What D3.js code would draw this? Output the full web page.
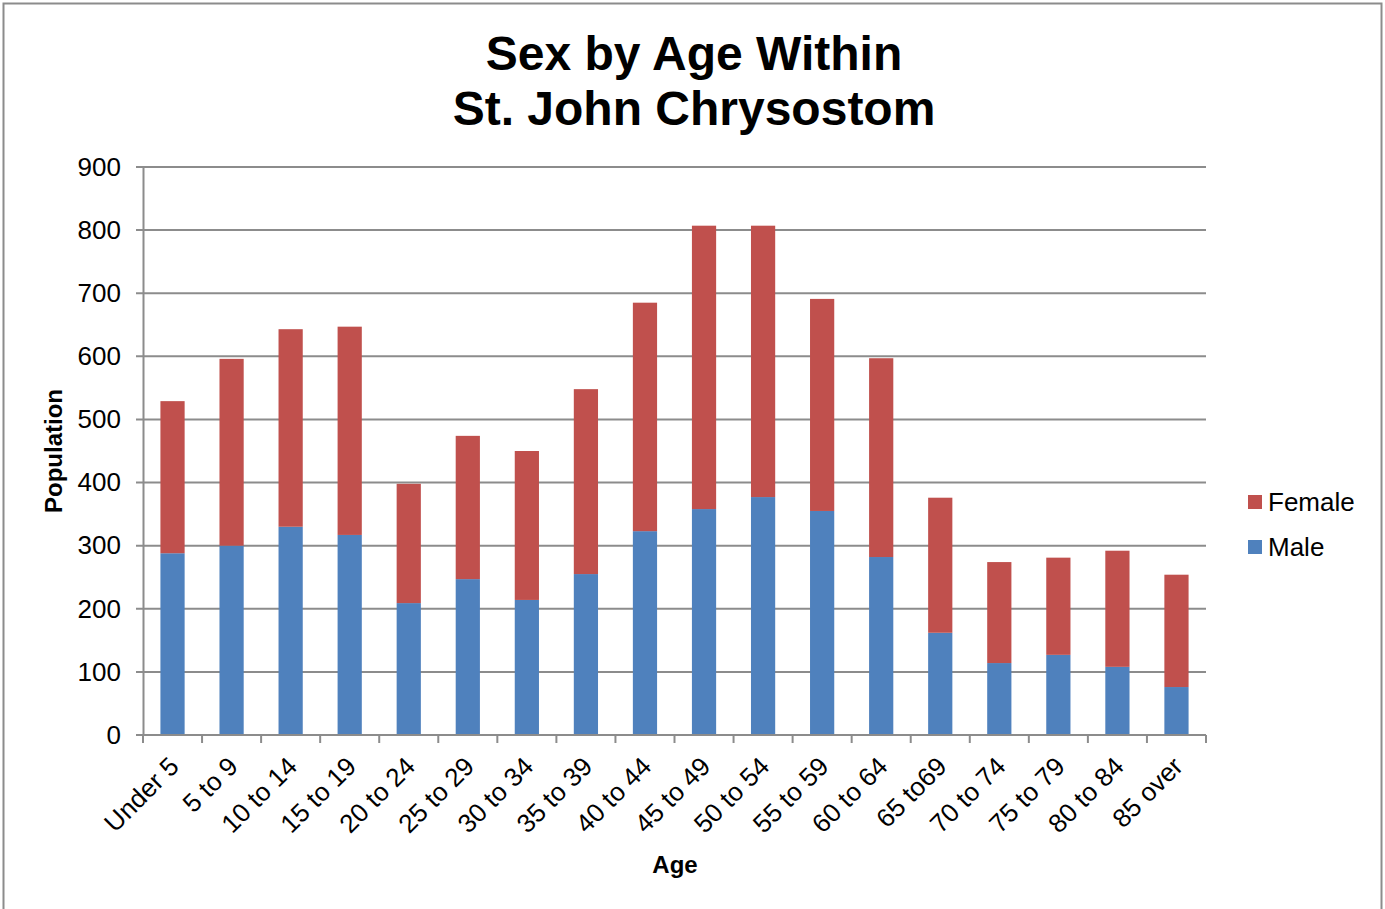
<!DOCTYPE html>
<html>
<head>
<meta charset="utf-8">
<script src="https://cdn.jsdelivr.net/npm/d3@7"></script>
<style>
  body { margin: 0; background: #fff; }
  text { font-family: "Liberation Sans", Arial, sans-serif; }
</style>
</head>
<body>
<script>
const w = 1385;
const h = 909;

const ages = ["Under 5", "5 to 9", "10 to 14", "15 to 19", "20 to 24", "25 to 29", "30 to 34",
  "35 to 39", "40 to 44", "45 to 49", "50 to 54", "55 to 59", "60 to 64", "65 to69",
  "70 to 74", "75 to 79", "80 to 84", "85 over"];
const male = [288, 300, 330, 317, 209, 247, 214, 255, 323, 358, 377, 355, 282, 162, 114, 127, 108, 76];
const female = [241, 296, 313, 330, 189, 227, 236, 293, 362, 449, 430, 336, 315, 214, 160, 154, 184, 178];
const yTicks = [0, 100, 200, 300, 400, 500, 600, 700, 800, 900];

const margin = { left: 143, right: 1206, top: 167, bottom: 735 };

const svg = d3.select("body").append("svg").attr("width", w).attr("height", h);

// chart frame
svg.append("rect")
  .attr("x", 3.5).attr("y", 3.5)
  .attr("width", 1378).attr("height", 920)
  .attr("fill", "none").attr("stroke", "#8c8c8c").attr("stroke-width", 2);

const xScale = d3.scaleBand().domain(ages).range([margin.left, margin.right]).paddingInner(0.59).paddingOuter(0.295);
const yScale = d3.scaleLinear().domain([0, 900]).range([margin.bottom, margin.top]);

/* gridlines */
svg.append("g")
  .selectAll("line")
  .data(yTicks)
  .enter()
  .append("line")
  .attr("x1", margin.left - 7)
  .attr("x2", margin.right)
  .attr("y1", (d) => yScale(d))
  .attr("y2", (d) => yScale(d))
  .attr("stroke", "#8c8c8c")
  .attr("stroke-width", 2);

/* stacked bars */
const rows = ages.map((a, i) => ({ age: a, Male: male[i], Female: female[i] }));
const stack = d3.stack().keys(["Male", "Female"])(rows);
const colors = { Male: "#4f81bd", Female: "#c0504d" };

svg.append("g")
  .selectAll("g")
  .data(stack)
  .enter()
  .append("g")
  .attr("fill", (d) => colors[d.key])
  .selectAll("rect")
  .data((d) => d)
  .enter()
  .append("rect")
  .attr("x", (d) => xScale(d.data.age))
  .attr("width", xScale.bandwidth())
  .attr("y", (d) => yScale(d[1]))
  .attr("height", (d) => yScale(d[0]) - yScale(d[1]));

/* y axis */
const yAxis = d3.axisLeft(yScale).tickValues(yTicks).tickSize(0).tickPadding(22);
const gy = svg.append("g").attr("transform", `translate(${margin.left}, 0)`).call(yAxis);
gy.select(".domain").attr("stroke", "#8c8c8c").attr("stroke-width", 2);
gy.selectAll("text").attr("font-size", 26).attr("fill", "#000")
  .attr("font-family", "'Liberation Sans', Arial, sans-serif");

/* x axis */
const gx = svg.append("g").attr("transform", `translate(0, ${margin.bottom})`);
gx.append("line")
  .attr("x1", margin.left).attr("x2", margin.right)
  .attr("stroke", "#8c8c8c").attr("stroke-width", 2);
const step = xScale.step();
gx.selectAll("line.tick")
  .data(d3.range(ages.length + 1))
  .enter()
  .append("line")
  .attr("class", "tick")
  .attr("x1", (i) => margin.left + i * step)
  .attr("x2", (i) => margin.left + i * step)
  .attr("y1", 0).attr("y2", 8)
  .attr("stroke", "#8c8c8c").attr("stroke-width", 2);
gx.selectAll("text")
  .data(ages)
  .enter()
  .append("text")
  .attr("text-anchor", "end")
  .attr("font-size", 26)
  .attr("transform", (d) => `translate(${xScale(d) + xScale.bandwidth() / 2 + 8}, 33) rotate(-45)`)
  .text((d) => d);

/* titles */
svg.append("text")
  .attr("x", 694).attr("y", 70)
  .attr("text-anchor", "middle").attr("font-size", 48).attr("font-weight", "bold")
  .text("Sex by Age Within");
svg.append("text")
  .attr("x", 694).attr("y", 125)
  .attr("text-anchor", "middle").attr("font-size", 48).attr("font-weight", "bold")
  .text("St. John Chrysostom");

svg.append("text")
  .attr("transform", "translate(62, 451) rotate(-90)")
  .attr("text-anchor", "middle").attr("font-size", 24).attr("font-weight", "bold")
  .text("Population");
svg.append("text")
  .attr("x", 675).attr("y", 873)
  .attr("text-anchor", "middle").attr("font-size", 24).attr("font-weight", "bold")
  .text("Age");

/* legend */
const legendItems = ["Female", "Male"];
const legend = svg.append("g").attr("transform", "translate(1248, 502)");
legend.selectAll("rect")
  .data(legendItems)
  .enter()
  .append("rect")
  .attr("x", 0)
  .attr("y", (d, i) => i * 45 - 7)
  .attr("width", 14).attr("height", 14)
  .attr("fill", (d) => colors[d]);
legend.selectAll("text")
  .data(legendItems)
  .enter()
  .append("text")
  .attr("x", 20)
  .attr("y", (d, i) => i * 45 + 9)
  .attr("font-size", 26)
  .text((d) => d);
</script>
</body>
</html>
